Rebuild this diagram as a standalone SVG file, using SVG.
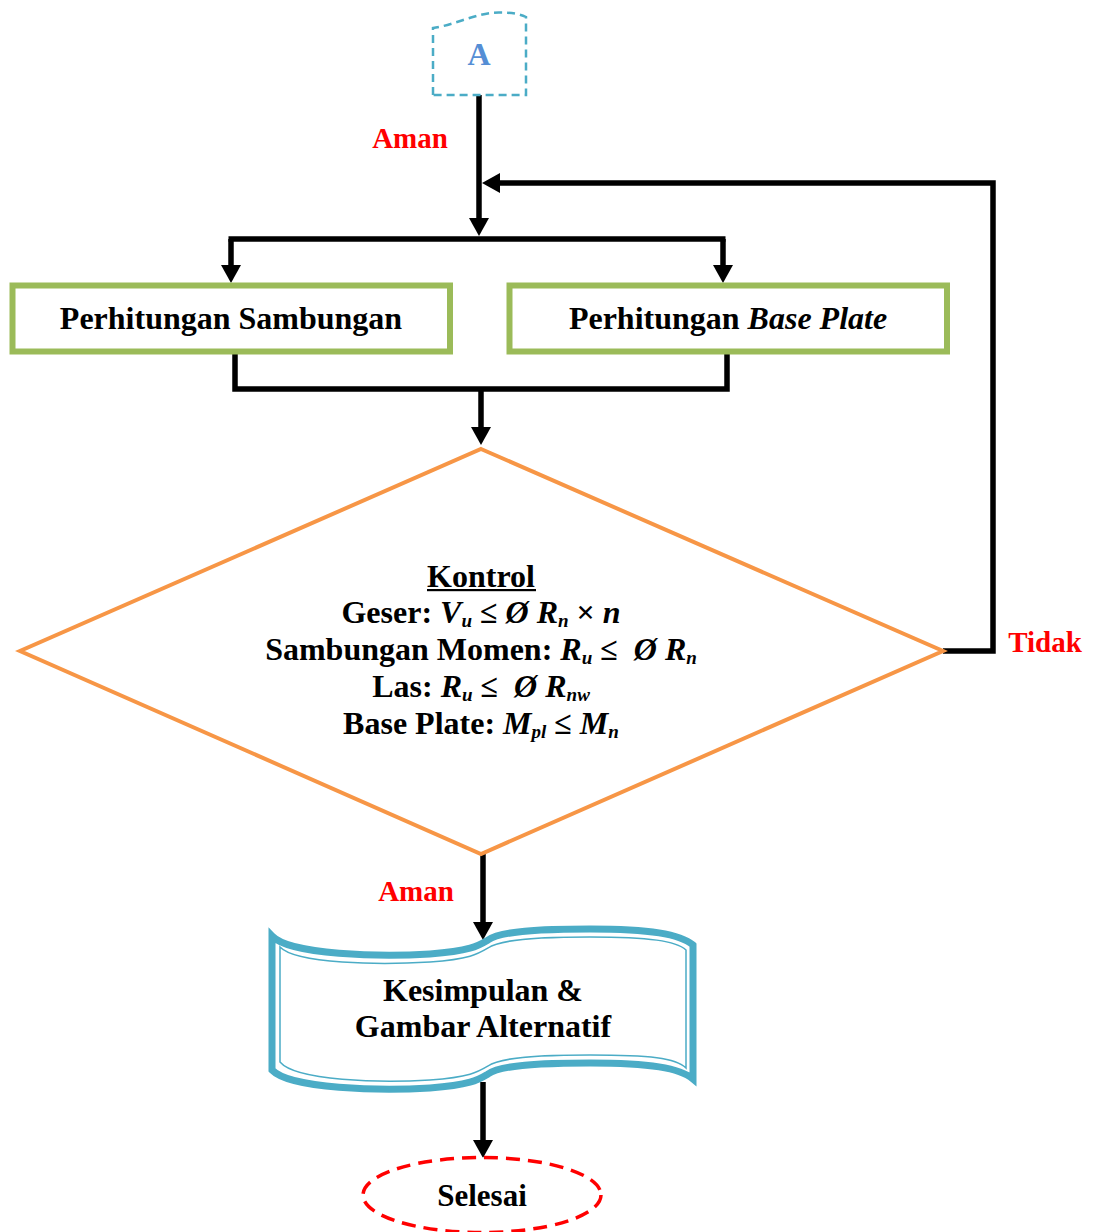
<svg xmlns="http://www.w3.org/2000/svg" width="1094" height="1232" viewBox="0 0 1094 1232">
<style>
.t{font-family:"Liberation Serif","Times New Roman",serif;font-weight:bold;fill:#000;text-anchor:middle}
.f32{font-size:32px}
.i{font-style:italic}
.sub{font-size:19px}
.red{fill:#FF0000;font-size:29px}
.con{fill:none;stroke:#000;stroke-width:5.5;stroke-linejoin:miter}
</style>
<defs>
<marker id="arr" markerUnits="userSpaceOnUse" markerWidth="20" markerHeight="20" refX="0" refY="10" orient="auto">
<path d="M0,0 L18,10 L0,20 Z" fill="#000"/>
</marker>
</defs>
<rect width="1094" height="1232" fill="#fff"/>

<g id="connectors">
<path class="con" d="M479,95 V218" marker-end="url(#arr)"/>
<path class="con" d="M228.5,239 H725.5"/>
<path class="con" d="M231,239 V265" marker-end="url(#arr)"/>
<path class="con" d="M723,239 V265" marker-end="url(#arr)"/>
<path class="con" d="M235,352 V389 H727 V352"/>
<path class="con" d="M481,389 V427" marker-end="url(#arr)"/>
<path class="con" d="M943,651 H993 V183 H500" marker-end="url(#arr)"/>
<path class="con" d="M483,854 V922" marker-end="url(#arr)"/>
<path class="con" d="M483,1082 V1140" marker-end="url(#arr)"/>
</g>

<g id="labels">
<text class="t red" x="410" y="148">Aman</text>
<text class="t red" x="416" y="901">Aman</text>
<text class="t red" x="1045" y="652">Tidak</text>
</g>

<g id="node-A">
<path d="M433,95 V28 C455,25 478,12 500,12.5 C512,12.5 520,14 526,17 V95 Z" fill="#fff" stroke="#4BACC6" stroke-width="2.5" stroke-dasharray="8,5"/>
<text class="t" x="479" y="65" style="font-size:32px;fill:#558ED5">A</text>
</g>

<g id="node-sambungan">
<rect x="12.5" y="285.5" width="437.5" height="66" fill="#fff" stroke="#9BBB59" stroke-width="6"/>
<text class="t f32" x="231" y="329">Perhitungan Sambungan</text>
</g>

<g id="node-baseplate">
<rect x="509.5" y="285.5" width="437.5" height="66" fill="#fff" stroke="#9BBB59" stroke-width="6"/>
<text class="t f32" x="728" y="329">Perhitungan <tspan class="i">Base Plate</tspan></text>
</g>

<g id="node-kontrol">
<polygon points="481,449 943,651 481,854 20,651" fill="#fff" stroke="#F79646" stroke-width="4"/>
<text class="t f32" x="481" y="587">Kontrol</text>
<rect x="427" y="589" width="109" height="2.2" fill="#000"/>
<text class="t f32" x="481" y="623">Geser: <tspan class="i">V</tspan><tspan class="i sub" dy="4">u</tspan><tspan dy="-4"> ≤ </tspan><tspan class="i">Ø R</tspan><tspan class="i sub" dy="4">n</tspan><tspan dy="-4"> × </tspan><tspan class="i">n</tspan></text>
<text class="t f32" x="481" y="660">Sambungan Momen: <tspan class="i">R</tspan><tspan class="i sub" dy="4">u</tspan><tspan dy="-4"> ≤&#160; </tspan><tspan class="i">Ø R</tspan><tspan class="i sub" dy="4">n</tspan></text>
<text class="t f32" x="481" y="697">Las: <tspan class="i">R</tspan><tspan class="i sub" dy="4">u</tspan><tspan dy="-4"> ≤&#160; </tspan><tspan class="i">Ø R</tspan><tspan class="i sub" dy="4">nw</tspan></text>
<text class="t f32" x="481" y="734">Base Plate: <tspan class="i">M</tspan><tspan class="i sub" dy="4">pl</tspan><tspan dy="-4"> ≤ </tspan><tspan class="i">M</tspan><tspan class="i sub" dy="4">n</tspan></text>
</g>

<g id="node-kesimpulan">
<path d="M272,936 C290,955 380,957 430,954 C470,951 478,946 488,940 C500,931 540,929 590,929 C650,929 680,934 693,945 L693,1079 C680,1068 650,1063 590,1063 C540,1063 500,1065 488,1074 C478,1080 470,1085 430,1088 C380,1091 290,1089 272,1070 Z" fill="#fff" stroke="#4BACC6" stroke-width="7"/>
<path d="M280,947 C296,964 380,965 430,962 C470,959 478,954 488,948 C500,939 540,937 590,937 C650,937 676,941 686,950 L686,1068 C676,1058 650,1055 590,1055 C540,1055 500,1057 488,1066 C478,1072 470,1077 430,1080 C380,1083 296,1081 280,1062 Z" fill="none" stroke="#4BACC6" stroke-width="1.5"/>
<text class="t f32" x="483" y="1001">Kesimpulan &amp;</text>
<text class="t f32" x="483" y="1037">Gambar Alternatif</text>
</g>

<g id="node-selesai">
<ellipse cx="482" cy="1195" rx="119" ry="37.5" fill="#fff" stroke="#FF0000" stroke-width="3.5" stroke-dasharray="14,8"/>
<text class="t" x="482" y="1206" style="font-size:31px">Selesai</text>
</g>
</svg>
